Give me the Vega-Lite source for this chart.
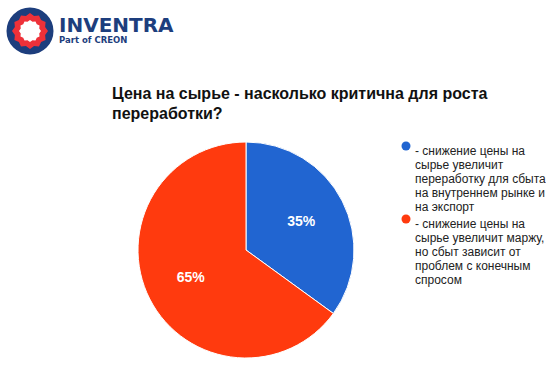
{
  "$schema": "https://vega.github.io/schema/vega-lite/v6.json",
  "background": "white",
  "padding": {"left": 6, "top": 7, "right": 0, "bottom": 0},
  "bounds": "flush",
  "spacing": 87,
  "config": {"view": {"stroke": null}},
  "vconcat": [
    {
      "width": 48,
      "height": 48,
      "title": {
        "text": "INVENTRA",
        "subtitle": "Part of CREON",
        "anchor": "start",
        "frame": "group",
        "orient": "top",
        "offset": 0,
        "dx": 53,
        "dy": 37,
        "font": "DejaVu Sans",
        "fontSize": 20,
        "fontWeight": "bold",
        "color": "#1D3E7D",
        "subtitleFont": "DejaVu Sans",
        "subtitleFontSize": 8.5,
        "subtitleFontWeight": "bold",
        "subtitleColor": "#1D3E7D",
        "subtitlePadding": 0
      },
      "data": {"values": [{"part": "logo"}]},
      "layer": [
        {"mark": {"type": "point", "shape": "circle", "filled": true, "size": 2209, "color": "#1D3E7D", "opacity": 1, "strokeWidth": 0}, "encoding": {}},
        {"mark": {"type": "point", "shape": "M0,-1L0.225,-0.84L0.5,-0.866L0.615,-0.615L0.866,-0.5L0.84,-0.225L1,0L0.84,0.225L0.866,0.5L0.615,0.615L0.5,0.866L0.225,0.84L0,1L-0.225,0.84L-0.5,0.866L-0.615,0.615L-0.866,0.5L-0.84,0.225L-1,0L-0.84,-0.225L-0.866,-0.5L-0.615,-0.615L-0.5,-0.866L-0.225,-0.84Z", "filled": true, "size": 1296, "color": "#EE3139", "opacity": 1, "strokeWidth": 0}, "encoding": {}},
        {"mark": {"type": "point", "shape": "M0,-1L0.225,-0.84L0.5,-0.866L0.615,-0.615L0.866,-0.5L0.84,-0.225L1,0L0.84,0.225L0.866,0.5L0.615,0.615L0.5,0.866L0.225,0.84L0,1L-0.225,0.84L-0.5,0.866L-0.615,0.615L-0.866,0.5L-0.84,0.225L-1,0L-0.84,-0.225L-0.866,-0.5L-0.615,-0.615L-0.5,-0.866L-0.225,-0.84Z", "filled": true, "size": 484, "color": "white", "opacity": 1, "strokeWidth": 0}, "encoding": {}}
      ]
    },
    {
      "width": 480,
      "height": 216,
      "title": {
        "text": ["Цена на сырье - насколько критична для роста", "переработки?"],
        "anchor": "start",
        "frame": "group",
        "offset": 18,
        "dx": 106,
        "font": "Liberation Sans",
        "fontSize": 16,
        "fontWeight": "bold",
        "lineHeight": 20,
        "color": "#111111"
      },
      "data": {
        "values": [
          {"cat": "- снижение цены на\nсырье увеличит\nпереработку для сбыта\nна внутреннем рынке и\nна экспорт", "share": 0.35, "idx": 1},
          {"cat": "- снижение цены на\nсырье увеличит маржу,\nно сбыт зависит от\nпроблем с конечным\nспросом", "share": 0.65, "idx": 2}
        ]
      },
      "encoding": {
        "theta": {"field": "share", "type": "quantitative", "stack": true},
        "order": {"field": "idx", "type": "quantitative"}
      },
      "layer": [
        {
          "mark": {"type": "arc", "stroke": "white", "strokeWidth": 1},
          "encoding": {
            "color": {
              "field": "cat",
              "type": "nominal",
              "scale": {
                "domain": [
                  "- снижение цены на\nсырье увеличит\nпереработку для сбыта\nна внутреннем рынке и\nна экспорт",
                  "- снижение цены на\nсырье увеличит маржу,\nно сбыт зависит от\nпроблем с конечным\nспросом"
                ],
                "range": ["#2165D1", "#FF3A0E"]
              },
              "legend": {
                "title": null,
                "orient": "none",
                "legendX": 394,
                "legendY": 133,
                "padding": 0,
                "symbolType": "circle",
                "symbolSize": 81,
                "symbolStrokeWidth": 0,
                "labelFont": "Liberation Sans",
                "labelFontSize": 12,
                "labelColor": "#222222",
                "labelLimit": 0,
                "labelOffset": 3,
                "labelBaseline": "top",
                "rowPadding": -5,
                "labelExpr": "split(datum.label, '\\n')",
                "encode": {"labels": {"update": {"dy": {"value": -5}}}}
              }
            }
          }
        },
        {
          "mark": {"type": "text", "radius": 62, "font": "Liberation Sans", "fontSize": 14, "fontWeight": "bold"},
          "encoding": {
            "text": {"field": "share", "type": "quantitative", "format": ".0%"},
            "detail": {"field": "cat", "type": "nominal"},
            "color": {"value": "white"}
          }
        }
      ]
    }
  ]
}
